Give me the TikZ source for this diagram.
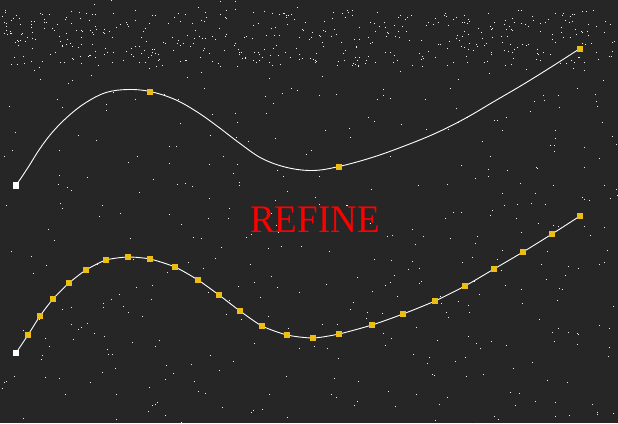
\documentclass[tikz,border=0pt]{standalone}
\usepackage{fontspec}
\setmainfont{Liberation Serif}
\definecolor{bgc}{RGB}{38,38,38}
\definecolor{ptc}{RGB}{236,190,20}
\definecolor{txtred}{RGB}{255,0,0}
\tikzset{
  ptbox/.style={draw=none,fill=ptc,minimum size=6pt,inner sep=0pt,outer sep=0pt},
  startbox/.style={draw=none,fill=white,minimum size=6.5pt,inner sep=0pt,outer sep=0pt},
  curveline/.style={white,line width=0.9pt},
}
\begin{document}
\begin{tikzpicture}[x=1pt,y=-1pt]
\fill[bgc] (0,0) rectangle (618,423);
\useasboundingbox (0,0) rectangle (618,423);
% stars
\pgfmathsetseed{4711}
\foreach \i in {1,...,480}{
  \pgfmathsetmacro\sx{rnd*618}
  \pgfmathsetmacro\sy{rnd*423}
  \fill[white!90!gray] (\sx,\sy) rectangle ++(1,1);
}
\foreach \i in {1,...,420}{
  \pgfmathsetmacro\sx{rnd*618}
  \pgfmathsetmacro\sy{10+rnd*56}
  \fill[white!90!gray] (\sx,\sy) rectangle ++(1,1);
}
% refined curve points
\foreach \k/\px/\py in {1/16/353,2/28/335,3/40/316,4/53/299,5/69/283,6/86/270,7/106/260,8/128/257,9/150/259,10/175/267,11/198/280,12/219/295,13/240/311,14/262/326,15/287/335,16/313/338,17/339/334,18/372/325,19/403/314,20/435/301,21/465/286,22/494/269,23/523/252,24/552/234,25/580/216}{
  \coordinate (b\k) at (\px,\py);
  \coordinate (t\k) at (\px,\py-167.5);
}
% top curve
\draw[curveline] plot[smooth,tension=0.6] coordinates {(t1) (t2) (t3) (t4) (t5) (t6) (t7) (t8) (t9) (t10) (t11) (t12) (t13) (t14) (t15) (t16) (t17) (t18) (t19) (t20) (t21) (t22) (t23) (t24) (t25)};
\node[startbox] (ta) at (t1) {};
\node[ptbox] (tb) at (t9) {};
\node[ptbox] (tc) at (t17) {};
\node[ptbox] (td) at (t25) {};
% bottom curve
\draw[curveline] plot[smooth,tension=0.4] coordinates {(b1) (b2) (b3) (b4) (b5) (b6) (b7) (b8) (b9) (b10) (b11) (b12) (b13) (b14) (b15) (b16) (b17) (b18) (b19) (b20) (b21) (b22) (b23) (b24) (b25)};
\node[startbox] (nb1) at (b1) {};
\foreach \k in {2,...,25}{
  \node[ptbox] (nb\k) at (b\k) {};
}
% label
\node[text=txtred,font=\fontsize{39}{39}\selectfont,xscale=0.95,inner sep=0pt] (lbl) at (315,220) {REFINE};
\end{tikzpicture}
\end{document}
